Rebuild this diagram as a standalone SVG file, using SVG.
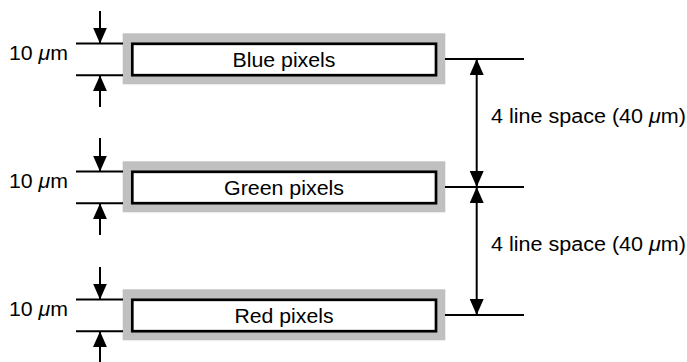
<svg xmlns="http://www.w3.org/2000/svg" width="687" height="362" viewBox="0 0 687 362">
<defs>
<style>
.frame{fill:#c0c0c0;stroke:none}
.bar{fill:#fff;stroke:#000;stroke-width:2.7}
.lbl{font-family:"Liberation Sans",Arial,sans-serif;font-size:19.5px;fill:#000}
.ln{stroke:#000;stroke-width:2;fill:none}
.arr{stroke:#000;stroke-width:2;fill:none;marker-end:url(#ah)}
.dbl{stroke:#000;stroke-width:2;fill:none;marker-start:url(#ah);marker-end:url(#ah)}
</style>
<marker id="ah" viewBox="0 0 16 14" markerWidth="16" markerHeight="14" refX="16" refY="7" orient="auto-start-reverse" markerUnits="userSpaceOnUse">
<path d="M0,0 L16,7 L0,14 z" fill="#000"/>
</marker>
</defs>
<rect width="687" height="362" fill="#fff"/>
<g id="blue">
<rect class="frame" x="122.7" y="33.3" width="322.6" height="51"/>
<rect class="bar" x="132.3" y="43.8" width="303.7" height="31.4"/>
<text class="lbl" x="284" y="66.7" text-anchor="middle" textLength="103" lengthAdjust="spacingAndGlyphs">Blue pixels</text>
</g>
<g id="green">
<rect class="frame" x="122.7" y="161.3" width="322.6" height="51"/>
<rect class="bar" x="132.3" y="171.8" width="303.7" height="31.4"/>
<text class="lbl" x="284" y="194.7" text-anchor="middle" textLength="120" lengthAdjust="spacingAndGlyphs">Green pixels</text>
</g>
<g id="red">
<rect class="frame" x="122.7" y="289.3" width="322.6" height="51"/>
<rect class="bar" x="132.3" y="299.8" width="303.7" height="31.4"/>
<text class="lbl" x="284" y="322.7" text-anchor="middle" textLength="99" lengthAdjust="spacingAndGlyphs">Red pixels</text>
</g>
<g id="connectors">
<path class="ln" d="M76,43.5H123M76,75.2H123M76,171.5H123M76,203.2H123M76,299.5H123M76,331.2H123"/>
<path class="ln" d="M445,59H524M445,187H524M445,315H524"/>
<path class="arr" d="M100,11V43.5"/>
<path class="arr" d="M100,107V75.2"/>
<path class="arr" d="M100,138V171.5"/>
<path class="arr" d="M100,235V203.2"/>
<path class="arr" d="M100,267V299.5"/>
<path class="arr" d="M100,364V331.2"/>
<path class="dbl" d="M476.7,59V187"/>
<path class="dbl" d="M476.7,187V315"/>
</g>
<g id="labels">
<text class="lbl" x="9" y="60" textLength="59" lengthAdjust="spacingAndGlyphs">10 <tspan font-style="italic">μ</tspan>m</text>
<text class="lbl" x="9" y="188.3" textLength="59" lengthAdjust="spacingAndGlyphs">10 <tspan font-style="italic">μ</tspan>m</text>
<text class="lbl" x="9" y="316" textLength="59" lengthAdjust="spacingAndGlyphs">10 <tspan font-style="italic">μ</tspan>m</text>
<text class="lbl" x="491" y="123.3" textLength="195" lengthAdjust="spacingAndGlyphs">4 line space (40 <tspan font-style="italic">μ</tspan>m)</text>
<text class="lbl" x="491" y="251.3" textLength="195" lengthAdjust="spacingAndGlyphs">4 line space (40 <tspan font-style="italic">μ</tspan>m)</text>
</g>
</svg>
